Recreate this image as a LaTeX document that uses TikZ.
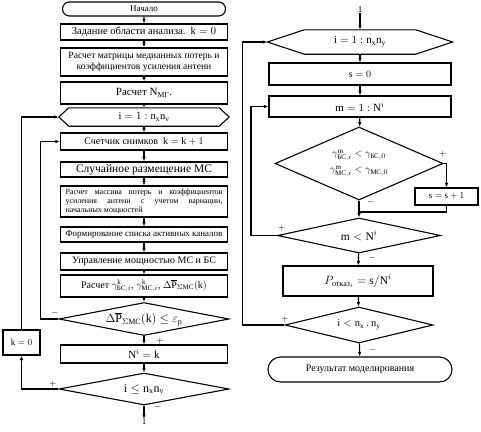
\documentclass[tikz,border=0pt]{standalone}
\usepackage{amsmath}
\usepackage{fontspec}
\setmainfont{Liberation Serif}
\usepackage{tikz}
\usetikzlibrary{arrows.meta,calc,shapes.geometric,shapes.misc}
\tikzset{
  box/.style={draw=black, line width=1.1pt, align=center, inner sep=1pt, minimum width=167pt, font=\fontsize{10}{12}\selectfont},
  smallbox/.style={draw=black, line width=1.1pt, align=center, inner sep=1pt, font=\fontsize{9}{11}\selectfont},
  term/.style={rounded rectangle, draw=black, line width=1.1pt, inner sep=1pt, font=\fontsize{9}{10}\selectfont},
  decision/.style={diamond, draw=black, line width=1.1pt, inner sep=0pt, aspect=4, align=center, font=\fontsize{11}{13}\selectfont},
  hexbox/.style={rectangle, inner sep=0pt, font=\fontsize{10.5}{12}\selectfont},
  line/.style={line width=1.1pt},
  arrow/.style={-{Latex[length=4.5pt,width=3.5pt]}, line width=1.1pt},
  sign/.style={inner sep=0pt, font=\fontsize{9}{9}\selectfont}
}

\begin{document}
\begin{tikzpicture}[x=1pt, y=-1pt]
\useasboundingbox (0,0) rectangle (481,431);
% left column
\node[term, minimum width=165pt, minimum height=14pt] (start) at (144,9) {Начало};
\node[box, minimum height=16pt, font=\fontsize{10.5}{12}\selectfont] (area) at (144,32) {Задание области анализа.\ \ $\mathrm{k}=0$};
\node[box, minimum height=28pt, font=\fontsize{9.6}{11.5}\selectfont] (median) at (144,62) {Расчет матрицы медианных потерь и\\коэффициентов усиления антенн};
\node[box, minimum height=22pt, font=\fontsize{11}{13}\selectfont] (nmg) at (144,93) {Расчет $\mathrm{N}_{\text{МГ}}$.};
\node[hexbox, minimum width=170pt, minimum height=18pt] (loopi) at (144,117) {$\mathrm{i}=1:\mathrm{n_x n_v}$};
\draw[line] (loopi.west) -- ([xshift=10pt]loopi.north west) -- ([xshift=-10pt]loopi.north east) -- (loopi.east)
  -- ([xshift=-10pt]loopi.south east) -- ([xshift=10pt]loopi.south west) -- cycle;
\node[box, minimum height=17pt] (count) at (144,141.5) {Счетчик снимков\ \ $\mathrm{k}=\mathrm{k}+1$};
\node[box, minimum height=15pt, font=\fontsize{11.5}{13}\selectfont] (place) at (144,169.5) {Случайное размещение МС};
\node[box, minimum height=31pt, text width=157pt, align=justify, font=\fontsize{8}{9}\selectfont] (losses) at (144,201.5)
  {Расчет массива потерь и коэффициентов\linebreak усиления антенн с учетом вариации,\linebreak начальных мощностей};
\node[box, minimum height=15pt, font=\fontsize{9}{10}\selectfont] (chan) at (144,234.5) {Формирование списка активных каналов};
\node[box, minimum height=17pt] (power) at (144,261.5) {Управление мощностью МС и БС};
\node[box, minimum height=22pt] (gamma) at (144,286)
  {Расчет $\gamma^{\mathrm{k}}_{\text{БС},i}$, $\gamma^{\mathrm{k}}_{\text{МС},i}$, $\Delta\overline{\mathrm{P}}_{\Sigma\text{МС}}(\mathrm{k})$};
\node[decision, minimum width=170pt, minimum height=32pt, font=\fontsize{12}{14}\selectfont] (conv) at (144,319)
  {$\Delta\overline{\mathrm{P}}_{\Sigma\text{МС}}(\mathrm{k})\le\varepsilon_{\mathrm{p}}$};
\node[box, minimum height=18pt, font=\fontsize{11}{13}\selectfont] (ni) at (144,354) {$\mathrm{N}^{i}=\mathrm{k}$};
\node[decision, minimum width=170pt, minimum height=32pt, font=\fontsize{12}{14}\selectfont] (endi) at (144,389) {$\mathrm{i}\le\mathrm{n_x n_v}$};
\node[sign] (out1) at (144,422) {1};
\node[smallbox, minimum width=37pt, minimum height=25pt] (reset) at (21.5,342.5) {$\mathrm{k}=0$};

\draw[arrow] (start) -- (area);
\draw[arrow] (area) -- (median);
\draw[arrow] (median) -- (nmg);
\draw[arrow] (nmg) -- (loopi);
\draw[arrow] (loopi) -- (count);
\draw[arrow] (count) -- (place);
\draw[arrow] (place) -- (losses);
\draw[arrow] (losses) -- (chan);
\draw[arrow] (chan) -- (power);
\draw[arrow] (power) -- (gamma);
\draw[arrow] (gamma) -- (conv);
\draw[arrow] (conv) -- (ni);
\draw[arrow] (ni) -- (endi);
\draw[arrow] (endi) -- (out1);
\draw[arrow] (conv.west) -- ++(-18pt,0) |- (count.west);
\draw[arrow] (endi.west) -| (reset.south);
\draw[arrow] (reset.north) |- (loopi.west);
\node[sign] (m1) at (55,313) {$-$};
\node[sign] (p1) at (160,341) {$+$};
\node[sign] (p2) at (53,384) {$+$};
\node[sign] (m2) at (158,407) {$-$};

% right column
\node[sign] (in1) at (360,10) {1};
\node[hexbox, minimum width=185pt, minimum height=24pt, font=\fontsize{11}{13}\selectfont] (loopj) at (360,42) {$\mathrm{i}=1:\mathrm{n_x n_y}$};
\draw[line] (loopj.west) -- ([xshift=37pt]loopj.north west) -- ([xshift=-37pt]loopj.north east) -- (loopj.east)
  -- ([xshift=-37pt]loopj.south east) -- ([xshift=37pt]loopj.south west) -- cycle;
\node[box, minimum width=182pt, minimum height=22pt] (szero) at (360,74) {$\mathrm{s}=0$};
\node[box, minimum width=182pt, minimum height=21pt, font=\fontsize{11}{13}\selectfont] (mloop) at (360,106.5) {$\mathrm{m}=1:\mathrm{N}^{i}$};
\node[decision, aspect=2.3, minimum width=168pt, minimum height=73pt, font=\fontsize{10}{12}\selectfont] (test) at (359,163.5)
  {$\gamma^{\mathrm{m}}_{\text{БС},i}<\gamma_{\text{БС},0}$\\[4pt]$\gamma^{\mathrm{m}}_{\text{МС},i}<\gamma_{\text{МС},0}$};
\node[smallbox, minimum width=63pt, minimum height=17pt] (sinc) at (446.5,196.5) {$\mathrm{s}=\mathrm{s}+1$};
\coordinate (join) at (359,212);
\node[decision, minimum width=163pt, minimum height=35pt, font=\fontsize{11.5}{13}\selectfont] (endm) at (359,235.5) {$\mathrm{m}<\mathrm{N}^{i}$};
\node[box, minimum width=150pt, minimum height=30pt, font=\fontsize{11.5}{13}\selectfont] (prob) at (358,281) {$P_{\text{отказ}_{i}}=\mathrm{s}/\mathrm{N}^{i}$};
\node[decision, minimum width=148pt, minimum height=36pt, font=\fontsize{10.5}{12}\selectfont] (endj) at (359,325) {$\mathrm{i}<\mathrm{n_x\,.\,n_y}$};
\node[term, minimum width=186pt, minimum height=25pt, font=\fontsize{10}{12}\selectfont] (result) at (360,369.5) {Результат моделирования};

\draw[arrow] (in1) -- (loopj);
\draw[arrow] (loopj) -- (szero);
\draw[arrow] (szero) -- (mloop);
\draw[arrow] (mloop) -- (test);
\draw[arrow] (test.east) -| (sinc.north);
\draw[line] (sinc.south) |- (join);
\draw[arrow] (test.south) -- (endm.north);
\draw[arrow] (endm) -- (prob);
\draw[arrow] (prob) -- (endj);
\draw[arrow] (endj) -- (result);
\draw[arrow] (endm.west) -- ++(-26pt,0) |- (mloop.west);
\draw[arrow] (endj.west) -- ++(-42pt,0) |- (loopj.west);
\node[sign] (p3) at (443,154) {$+$};
\node[sign] (m3) at (371,202) {$-$};
\node[sign] (p4) at (282,228) {$+$};
\node[sign] (m4) at (372,258) {$-$};
\node[sign] (p5) at (285,319) {$+$};
\node[sign] (m5) at (373,350) {$-$};
\end{tikzpicture}
\end{document}
